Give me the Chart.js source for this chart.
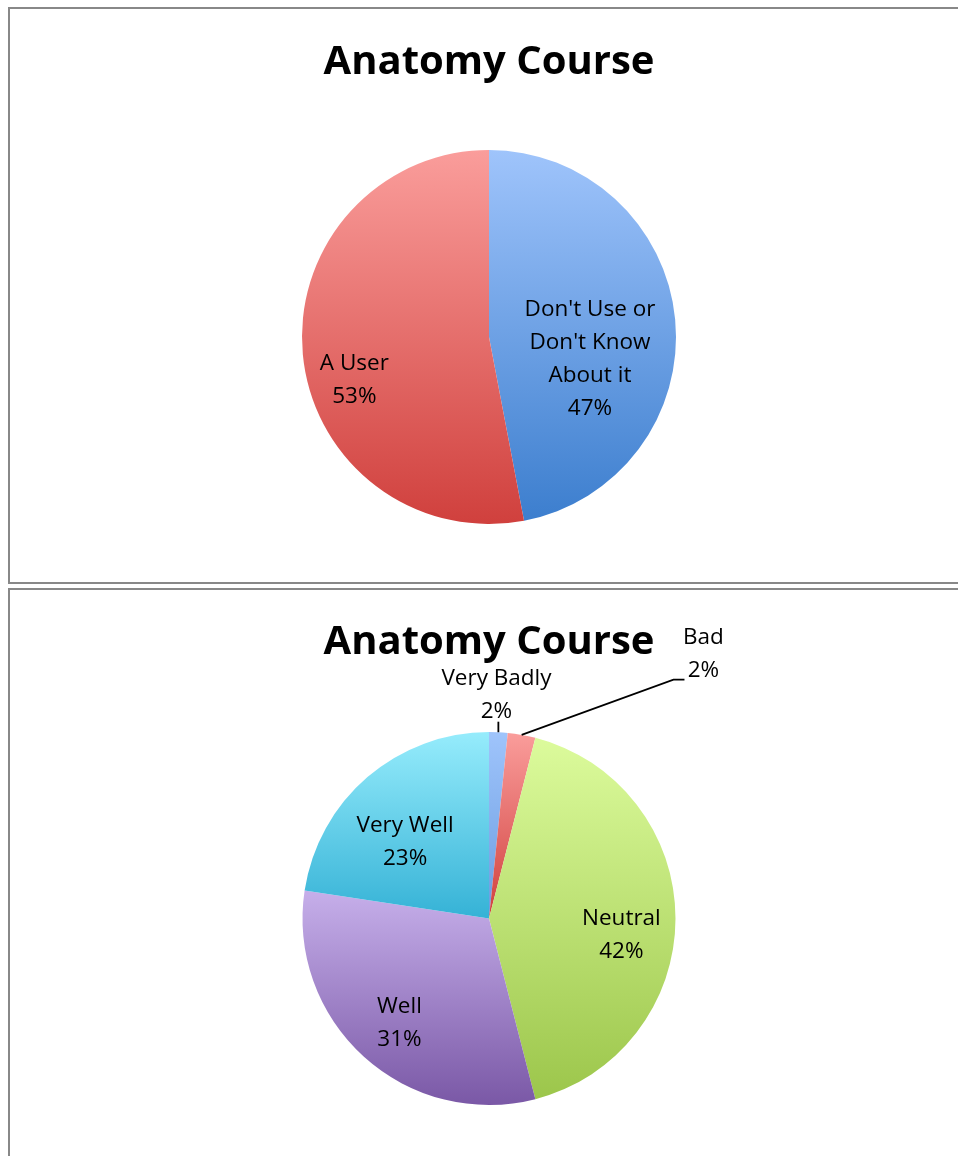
<!DOCTYPE html>
<html lang="en">
<head>
<meta charset="UTF-8">
<title>Anatomy Course</title>
<script src="https://cdn.jsdelivr.net/npm/chart.js"></script>
<style>
  body { margin: 0; background: #fff; width: 958px; height: 1156px; overflow: hidden; position: relative; }
  .box { position: absolute; left: 8px; width: 1000px; border: 2px solid #888; box-sizing: border-box; }
  #box1 { top: 7px; height: 577px; }
  #box2 { top: 588px; height: 620px; }
  canvas { position: absolute; left: 0; }
</style>
</head>
<body>
<div class="box" id="box1"></div>
<div class="box" id="box2"></div>
<canvas id="usage" width="958" height="585" style="top:0"></canvas>
<canvas id="rating" width="958" height="571" style="top:585px"></canvas>

<script>
// data
const usageLabels = [["Don't Use or", "Don't Know", "About it"], ["A User"]];
const usageValues = [47, 53];

const ratingLabels = [["Very Badly"], ["Bad"], ["Neutral"], ["Well"], ["Very Well"]];
const ratingValues = [1.6, 2.4, 42, 31.4, 22.6];

// gradient stops, light (top) -> dark (bottom)
const usageColors = [['#9fc4fb', '#3c7ece'], ['#fa9d9b', '#d0403d']];
const ratingColors = [
    ['#9fc4fb', '#6a9ce0'],
    ['#fa9d9b', '#d0403d'],
    ['#dcfb9c', '#9cc64b'],
    ['#c6afea', '#7a58a6'],
    ['#96ecfc', '#35b2d6']
];

const LINE = 33;
const FONT = "'Open Sans', sans-serif";

// vertical gradient over each slice's own bounding box
function sliceFill(colors) {
    return function (c) {
        const chart = c.chart, area = chart.chartArea;
        if (!area) return colors[c.dataIndex][1];
        const vals = c.dataset.data;
        const total = vals.reduce((a, b) => a + b, 0);
        let start = 0;
        for (let i = 0; i < c.dataIndex; i++) start += vals[i];
        const a0 = start / total * 2 * Math.PI;
        const a1 = (start + vals[c.dataIndex]) / total * 2 * Math.PI;
        const cy = (area.top + area.bottom) / 2;
        const r = Math.min(area.width, area.height) / 2;
        const ys = [cy, cy - r * Math.cos(a0), cy - r * Math.cos(a1)];
        if (a0 <= 0) ys.push(cy - r);
        if (a0 <= Math.PI && a1 >= Math.PI) ys.push(cy + r);
        const g = chart.ctx.createLinearGradient(0, Math.min(...ys), 0, Math.max(...ys));
        g.addColorStop(0, colors[c.dataIndex][0]);
        g.addColorStop(1, colors[c.dataIndex][1]);
        return g;
    };
}

// data labels: name lines + percent, placed relative to the pie (in radii)
const sliceLabels = {
    id: 'sliceLabels',
    afterDatasetsDraw(chart, args, opts) {
        const ctx = chart.ctx;
        const meta = chart.getDatasetMeta(0);
        const vals = chart.data.datasets[0].data;
        const total = vals.reduce((a, b) => a + b, 0);
        ctx.save();
        ctx.font = '22.5px ' + FONT;
        ctx.fillStyle = '#000';
        ctx.strokeStyle = '#000';
        ctx.lineWidth = 1.8;
        ctx.textAlign = 'center';
        ctx.textBaseline = 'middle';
        meta.data.forEach((arc, i) => {
            const lines = chart.data.labels[i].concat(Math.round(vals[i] / total * 100) + '%');
            const spot = opts.spots[i];
            const x = arc.x + spot[0] * arc.outerRadius;
            const y = arc.y + spot[1] * arc.outerRadius;
            const top = y - (lines.length - 1) * LINE / 2;
            lines.forEach((t, k) => ctx.fillText(t, x, top + k * LINE));

            const leader = opts.leaders ? opts.leaders[i] : null;
            if (leader) {
                const mid = (arc.startAngle + arc.endAngle) / 2;
                const ex = arc.x + Math.cos(mid) * arc.outerRadius;
                const ey = arc.y + Math.sin(mid) * arc.outerRadius;
                ctx.beginPath();
                ctx.moveTo(ex, ey);
                if (leader === 'tick') {
                    ctx.lineTo(ex, y + 27);
                } else {
                    ctx.lineTo(x + leader[0], y + 26);
                    ctx.lineTo(x + leader[1], y + 26);
                }
                ctx.stroke();
            }
        });
        ctx.restore();
    }
};

function makePie(id, labels, values, colors, titlePad, layoutPad, labelOpts) {
    return new Chart(document.getElementById(id), {
        type: 'pie',
        data: {
            labels: labels,
            datasets: [{
                data: values,
                backgroundColor: sliceFill(colors),
                borderWidth: 0
            }]
        },
        options: {
            responsive: false,
            animation: false,
            events: [],
            layout: { padding: layoutPad },
            plugins: {
                legend: { display: false },
                tooltip: { enabled: false },
                title: {
                    display: true,
                    text: 'Anatomy Course',
                    color: '#000',
                    font: { family: FONT, size: 40, weight: 'bold' },
                    padding: titlePad
                },
                sliceLabels: labelOpts
            }
        },
        plugins: [sliceLabels]
    });
}

makePie('usage', usageLabels, usageValues, usageColors,
    { top: 39, bottom: 63 },
    { left: 20, right: 0, top: 0, bottom: 61 },
    { spots: [[0.54, 0.12], [-0.72, 0.23]] });

makePie('rating', ratingLabels, ratingValues, ratingColors,
    { top: 34, bottom: 65 },
    { left: 20, right: 0, top: 0, bottom: 51 },
    {
        spots: [[0.04, -1.2], [1.15, -1.42], [0.71, 0.09], [-0.48, 0.56], [-0.45, -0.41]],
        leaders: ['tick', [-30, -19], null, null, null]
    });
</script>
</body>
</html>
